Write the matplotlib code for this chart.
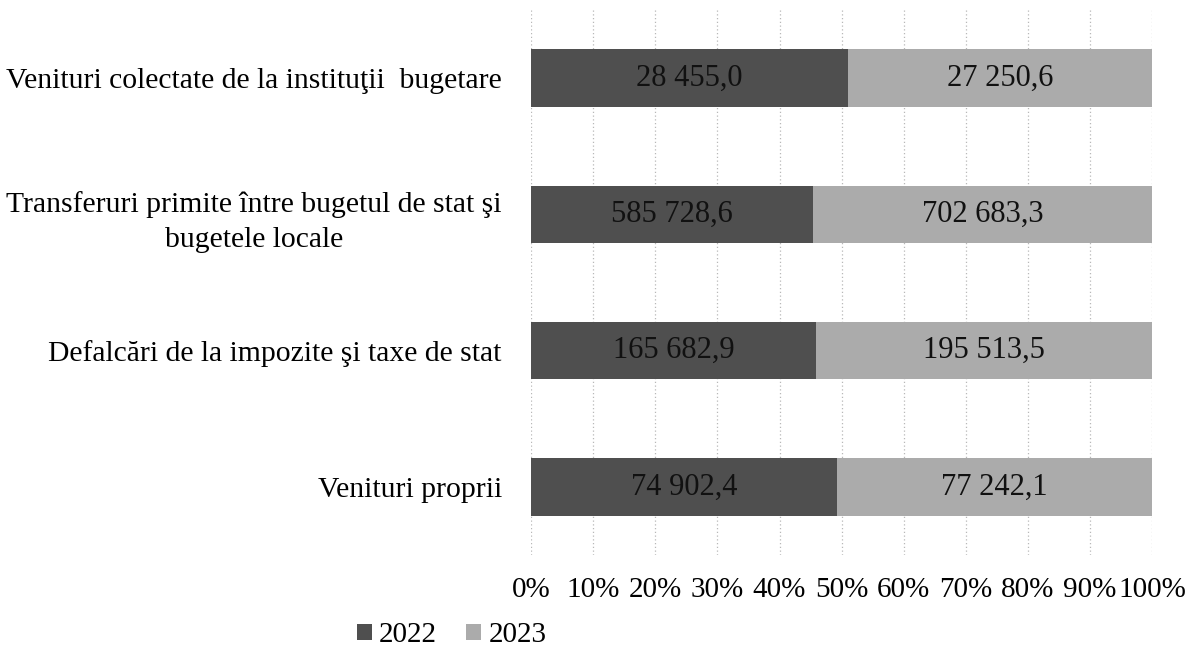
import matplotlib
matplotlib.use("Agg")
import matplotlib.pyplot as plt
import numpy as np

categories = ["Venituri proprii",
              "Defalcări de la impozite şi taxe de stat",
              "Transferuri primite între bugetul de stat şi\nbugetele locale",
              "Venituri colectate de la instituţii  bugetare"]
v2022 = [74902.4, 165682.9, 585728.6, 28455.0]
v2023 = [77242.1, 195513.5, 702683.3, 27250.6]
labels2022 = ["74 902,4", "165 682,9", "585 728,6", "28 455,0"]
labels2023 = ["77 242,1", "195 513,5", "702 683,3", "27 250,6"]
xticks = [0, 10, 20, 30, 40, 50, 60, 70, 80, 90, 100]

plt.rcParams['font.family'] = ['Liberation Serif', 'DejaVu Serif']

fig = plt.figure(figsize=(11.89, 6.57), dpi=100)
ax = fig.add_axes([0.4466, 0.155, 0.5225, 0.83])

a = np.array(v2022); b = np.array(v2023)
tot = a + b
p1 = a / tot * 100
p2 = b / tot * 100
y = np.arange(len(categories))
h = 0.42
ax.barh(y, p1, height=h, color="#4f4f4f", label="2022", zorder=2)
ax.barh(y, p2, left=p1, height=h, color="#ababab", label="2023", zorder=2)
for i in range(len(y)):
    ax.text(p1[i] / 2, y[i], labels2022[i], ha="center", va="center", fontsize=22, color="#111111", zorder=3)
    ax.text(p1[i] + p2[i] / 2, y[i], labels2023[i], ha="center", va="center", fontsize=22, color="#111111", zorder=3)

ax.set_xlim(0, 100)
ax.set_ylim(-0.5, 3.5)
ax.set_xticks(xticks)
ax.set_xticklabels([f"{t}%" for t in xticks], fontsize=21)
ax.set_yticks(y)
ax.set_yticklabels(categories, fontsize=21.3, linespacing=1.45)
for lab in ax.get_yticklabels():
    lab.set_multialignment("center")
ax.tick_params(axis="x", length=0, pad=16)
ax.tick_params(axis="y", length=0, pad=21)
ax.xaxis.grid(True, color="#b8b8b8", linestyle=(0, (1, 2)), linewidth=0.9, zorder=0)
for s in ax.spines.values():
    s.set_visible(False)

leg = fig.legend(loc="center", bbox_to_anchor=(0.38, 0.033), ncol=2, frameon=False,
                 fontsize=21, handlelength=0.5, handleheight=0.5, handletextpad=0.25, columnspacing=1.0)

fig.savefig("out.png", dpi=100)
